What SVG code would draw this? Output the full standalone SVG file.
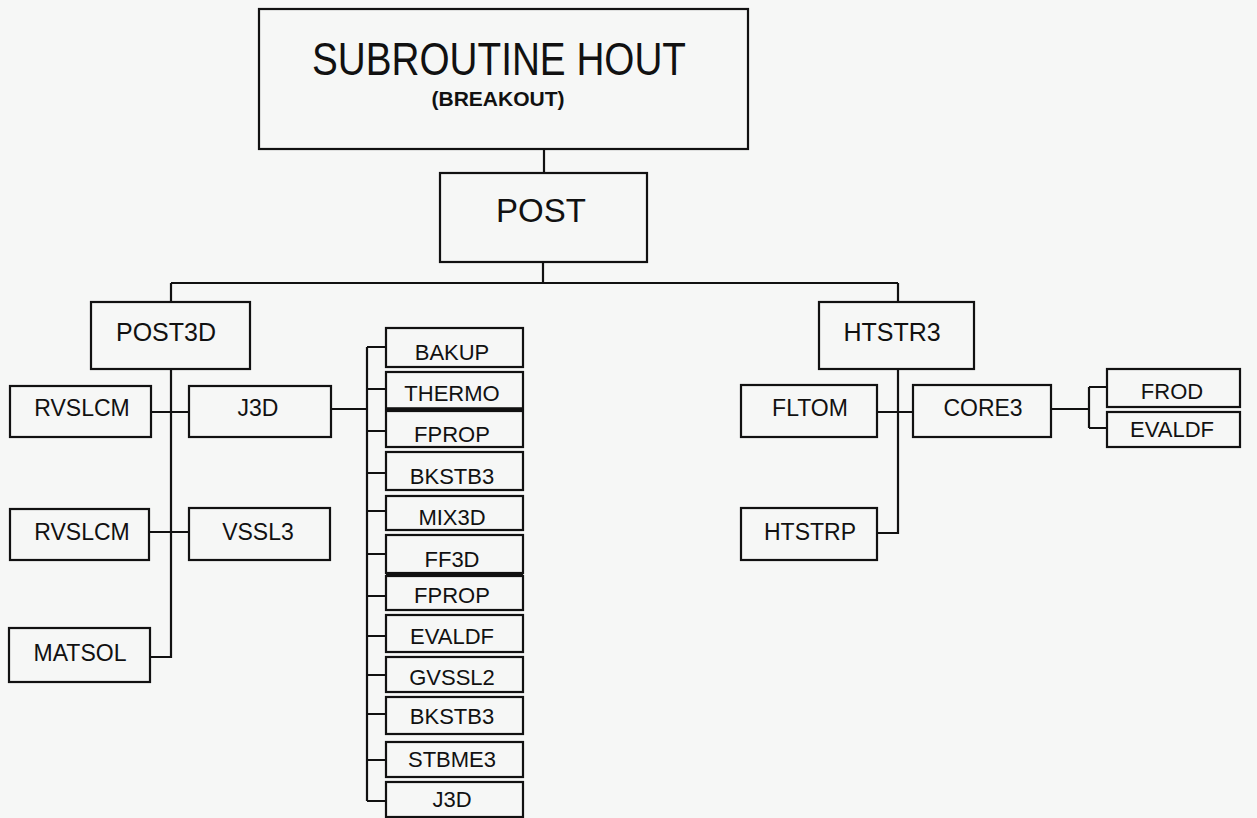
<svg xmlns="http://www.w3.org/2000/svg" width="1257" height="818" viewBox="0 0 1257 818">
<style>
.box{fill:none;stroke:#111;stroke-width:2.2}
.t{font-family:"Liberation Sans",Arial,sans-serif;fill:#111;text-anchor:middle}
.l1{font-size:25px}
.l2{font-size:23px}
.l3{font-size:22px}
#connectors path{fill:none;stroke:#111;stroke-width:2.2}
</style>
<rect width="1257" height="818" fill="#f6f7f6"/>
<g id="connectors">
<path d="M544 149V173"/>
<path d="M543 262V283"/>
<path d="M171 283H898"/>
<path d="M171 283V302"/>
<path d="M898 283V302"/>
<path d="M171 369V657H150"/>
<path d="M151 412H189"/>
<path d="M149 532H189"/>
<path d="M331 409H367"/>
<path d="M367 347V801"/>
<path d="M367 347H386M367 389H386M367 431H386M367 473H386M367 511H386M367 554H386M367 596H386M367 636H386M367 675H386M367 714H386M367 760H386M367 801H386"/>
<path d="M898 369V533H877"/>
<path d="M877 412H913"/>
<path d="M1051 409H1089"/>
<path d="M1089 387V428"/>
<path d="M1089 387H1107M1089 428H1107"/>
</g>
<g id="hout">
<rect class="box" x="259" y="9" width="489" height="140"/>
<text class="t" x="499" y="75" font-size="47" textLength="374" lengthAdjust="spacingAndGlyphs">SUBROUTINE HOUT</text>
<text class="t" x="498" y="106" font-size="21" font-weight="bold">(BREAKOUT)</text>
</g>
<g id="post">
<rect class="box" x="440" y="173" width="207" height="89"/>
<text class="t" x="541" y="222" font-size="33">POST</text>
</g>
<g id="post3d">
<rect class="box" x="91" y="302" width="159" height="67"/>
<text class="t l1" x="166" y="341">POST3D</text>
</g>
<g id="htstr3">
<rect class="box" x="819" y="302" width="155" height="67"/>
<text class="t l1" x="892" y="341">HTSTR3</text>
</g>
<g id="rvslcm1">
<rect class="box" x="10" y="386" width="141" height="51"/>
<text class="t l2" x="82" y="416">RVSLCM</text>
</g>
<g id="j3d">
<rect class="box" x="189" y="386" width="142" height="51"/>
<text class="t l2" x="258" y="416">J3D</text>
</g>
<g id="rvslcm2">
<rect class="box" x="10" y="509" width="139" height="51"/>
<text class="t l2" x="82" y="540">RVSLCM</text>
</g>
<g id="vssl3">
<rect class="box" x="189" y="508" width="141" height="52"/>
<text class="t l2" x="258" y="540">VSSL3</text>
</g>
<g id="matsol">
<rect class="box" x="9" y="628" width="141" height="54"/>
<text class="t l2" x="80" y="661">MATSOL</text>
</g>
<g id="fltom">
<rect class="box" x="741" y="385" width="136" height="52"/>
<text class="t l2" x="810" y="416">FLTOM</text>
</g>
<g id="core3">
<rect class="box" x="913" y="385" width="138" height="52"/>
<text class="t l2" x="983" y="416">CORE3</text>
</g>
<g id="htstrp">
<rect class="box" x="741" y="508" width="136" height="52"/>
<text class="t l2" x="810" y="540">HTSTRP</text>
</g>
<g id="frod">
<rect class="box" x="1107" y="369" width="133" height="38"/>
<text class="t l3" x="1172" y="399">FROD</text>
</g>
<g id="evaldf-r">
<rect class="box" x="1107" y="412" width="133" height="35"/>
<text class="t l3" x="1172" y="437">EVALDF</text>
</g>
<g id="bakup">
<rect class="box" x="386" y="328" width="137" height="39"/>
<text class="t l3" x="452" y="360">BAKUP</text>
</g>
<g id="thermo">
<rect class="box" x="386" y="372" width="137" height="37"/>
<line x1="386" y1="409" x2="523" y2="409" stroke="#111" stroke-width="3.5"/>
<text class="t l3" x="452" y="401">THERMO</text>
</g>
<g id="fprop1">
<rect class="box" x="386" y="411" width="137" height="36"/>
<text class="t l3" x="452" y="442">FPROP</text>
</g>
<g id="bkstb3-1">
<rect class="box" x="386" y="452" width="137" height="38"/>
<text class="t l3" x="452" y="484">BKSTB3</text>
</g>
<g id="mix3d">
<rect class="box" x="386" y="496" width="137" height="34"/>
<text class="t l3" x="452" y="525">MIX3D</text>
</g>
<g id="ff3d">
<rect class="box" x="386" y="535" width="137" height="38"/>
<line x1="386" y1="574" x2="523" y2="574" stroke="#111" stroke-width="3.5"/>
<text class="t l3" x="452" y="567">FF3D</text>
</g>
<g id="fprop2">
<rect class="box" x="386" y="576" width="137" height="34"/>
<text class="t l3" x="452" y="603">FPROP</text>
</g>
<g id="evaldf">
<rect class="box" x="386" y="615" width="137" height="37"/>
<text class="t l3" x="452" y="644">EVALDF</text>
</g>
<g id="gvssl2">
<rect class="box" x="386" y="657" width="137" height="35"/>
<text class="t l3" x="452" y="685">GVSSL2</text>
</g>
<g id="bkstb3-2">
<rect class="box" x="386" y="697" width="137" height="37"/>
<text class="t l3" x="452" y="724">BKSTB3</text>
</g>
<g id="stbme3">
<rect class="box" x="386" y="742" width="137" height="35"/>
<text class="t l3" x="452" y="767">STBME3</text>
</g>
<g id="j3d-2">
<rect class="box" x="386" y="782" width="137" height="35"/>
<text class="t l3" x="452" y="807">J3D</text>
</g>
</svg>
